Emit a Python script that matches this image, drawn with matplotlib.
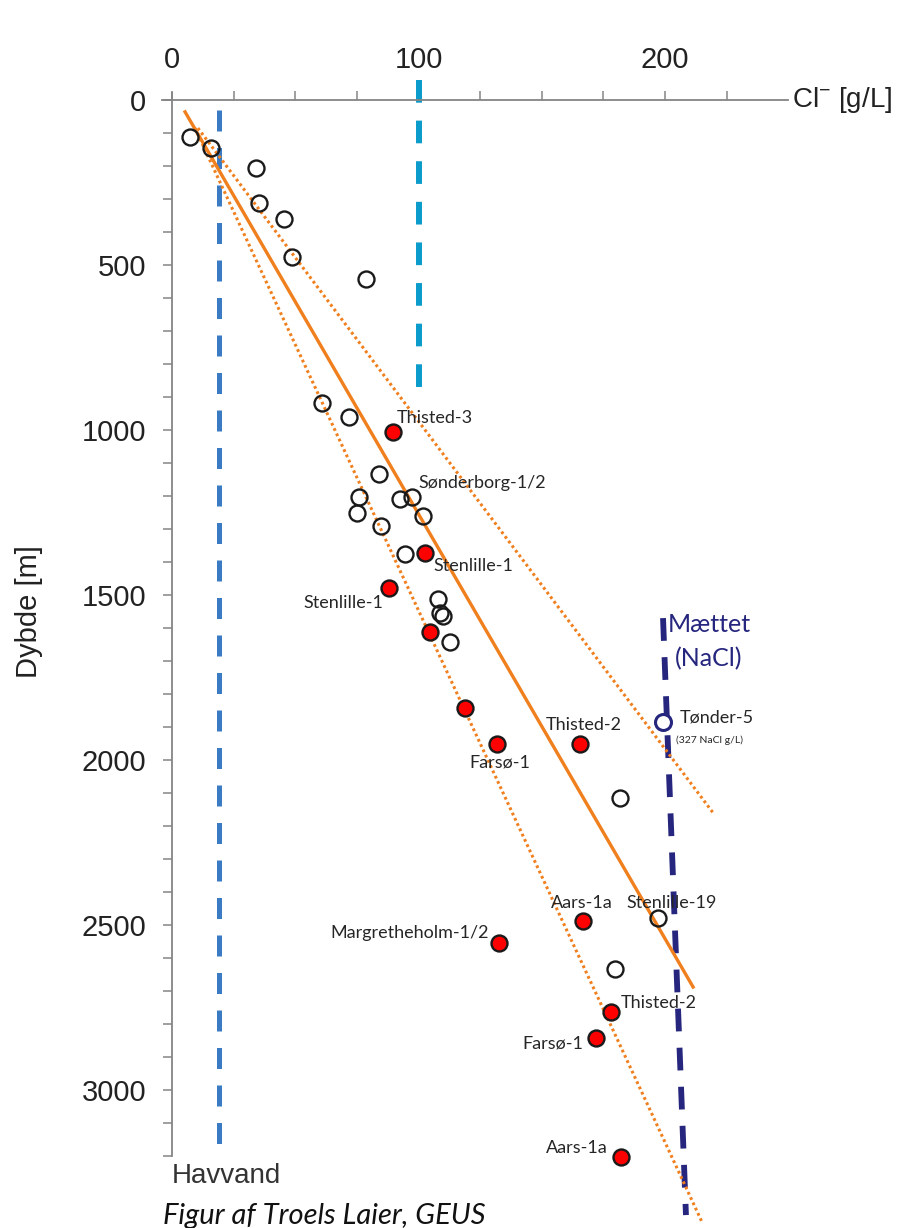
import matplotlib
matplotlib.use("Agg")
import matplotlib.pyplot as plt
from matplotlib.ticker import FixedLocator

plt.rcParams['font.family'] = ['Liberation Sans', 'DejaVu Sans']
plt.rcParams['mathtext.default'] = 'regular'

# data: Cl [g/L] vs depth [m]
open_x = [7.3, 15.8, 34.1, 35.3, 45.4, 48.7, 78.7, 60.9, 71.8, 84.0, 75.9, 92.5,
          97.4, 75.1, 101.8, 84.8, 94.5, 107.9, 108.7, 109.9, 112.8, 181.7, 197.2, 179.7]
open_y = [112, 145, 206, 312, 361, 476, 542, 918, 961, 1133, 1203, 1209,
          1203, 1252, 1261, 1291, 1376, 1512, 1555, 1564, 1642, 2115, 2479, 2633]

red_x = [89.7, 102.6, 88.0, 104.7, 118.9, 131.8, 165.5, 166.7, 132.7, 178.1, 172.0, 182.1]
red_y = [1006, 1373, 1479, 1612, 1842, 1952, 1952, 2488, 2555, 2764, 2842, 3203]
red_names = ['Thisted-3', 'Stenlille-1', 'Stenlille-1', '', '', 'Farsø-1', 'Thisted-2',
             'Aars-1a', 'Margretheholm-1/2', 'Thisted-2', 'Farsø-1', 'Aars-1a']

tonder_x = 199.2
tonder_y = 1885

trend_x = [5.3, 211.4]
trend_y = [36, 2688]
upper_x = [10.5, 219.5]
upper_y = [85, 2160]
lower_x = [9.3, 215.0]
lower_y = [85, 3400]

havvand_x = 19
havvand_y = [30, 3167]
cyan_x = 100
cyan_y = [-60, 895]
maettet_x = [199.2, 208.5]
maettet_y = [1570, 3379]

# label offsets in pixels (dx right, dy up) and alignment
red_offsets = [(4, 14, 'left'), (9, -13, 'left'), (-6, -15, 'right'), None, None,
               (3, -18, 'center'), (4, 19, 'center'), (-1, 18, 'center'),
               (-10, 10, 'right'), (10, 9, 'left'), (-13, -6, 'right'), (-13, 9, 'right')]

W, H = 913, 1228
fig = plt.figure(figsize=(W / 100, H / 100), dpi=100)
ax = fig.add_axes([0, 0, 1, 1])
ax.set_xlim(-172 / 2.465, (W - 172) / 2.465)
ax.set_ylim((H - 100) / 0.33, -100 / 0.33)

grey = '#858585'
orange = '#f07f1e'
navy = '#26267e'

# axes
for s in ['right', 'bottom']:
    ax.spines[s].set_visible(False)
ax.spines['top'].set_position(('data', 0))
ax.spines['left'].set_position(('data', 0))
ax.spines['top'].set_bounds(-4, 250)
ax.spines['left'].set_bounds(-22, 3200)
for s in ['top', 'left']:
    ax.spines[s].set_color(grey)
    ax.spines[s].set_linewidth(1.3)
ax.xaxis.tick_top()
ax.set_xticks([0, 100, 200])
ax.xaxis.set_minor_locator(FixedLocator([25, 50, 75, 125, 150, 175, 225]))
ax.set_yticks(range(0, 3001, 500))
ax.yaxis.set_minor_locator(FixedLocator([v for v in range(100, 3201, 100) if v % 500 != 0]))
ax.tick_params(which='both', direction='out', length=6.5, width=1.1, color=grey,
               labelsize=21, labelcolor='#222222')
ax.tick_params(axis='x', pad=12)
ax.tick_params(axis='y', pad=12)

# reference lines
ax.plot([havvand_x, havvand_x], havvand_y, color='#3b7bc4', lw=3.6, dashes=(4.2, 3.3),
        dash_capstyle='butt', zorder=2)
ax.plot([cyan_x, cyan_x], cyan_y, color='#0b9ccb', lw=4.3, dashes=(3.8, 3.0),
        dash_capstyle='butt', zorder=2, clip_on=False)
ax.plot(maettet_x, maettet_y, color=navy, lw=4.2, dashes=(3.9, 2.8),
        dash_capstyle='butt', zorder=2)

# trend lines
ax.plot(trend_x, trend_y, color=orange, lw=2.4, zorder=3)
ax.plot(upper_x, upper_y, color=orange, lw=2.2, dashes=(0.9, 1.0), zorder=3)
ax.plot(lower_x, lower_y, color=orange, lw=2.2, dashes=(0.9, 1.0), zorder=3)

# points
ax.plot(open_x, open_y, 'o', ms=11.5, mfc='none', mec='#1a1a1a', mew=1.7, zorder=4)
ax.plot(red_x, red_y, 'o', ms=11.5, mfc='#ff0000', mec='#1a1a1a', mew=1.7, zorder=5)
ax.plot([tonder_x], [tonder_y], 'o', ms=11.5, mfc='white', mec=navy, mew=2.2, zorder=5)

lab_font = dict(family=['Lato', 'DejaVu Sans'], fontsize=13, color='#262626')
for x, y, name, off in zip(red_x, red_y, red_names, red_offsets):
    if name:
        ax.annotate(name, (x, y), xytext=off[:2], textcoords='offset pixels',
                    ha=off[2], va='center', zorder=6, **lab_font)

ax.annotate('Sønderborg-1/2', (open_x[12], open_y[12]), xytext=(6, 14),
            textcoords='offset pixels', ha='left', va='center', **lab_font)
ax.annotate('Stenlille-19', (open_x[22], open_y[22]), xytext=(14, 15),
            textcoords='offset pixels', ha='center', va='center', **lab_font)
ax.annotate('Tønder-5', (tonder_x, tonder_y), xytext=(17, 5),
            textcoords='offset pixels', ha='left', va='center', **lab_font)
ax.annotate('(327 NaCl g/L)', (tonder_x, tonder_y), xytext=(13, -18),
            textcoords='offset pixels', ha='left', va='center',
            family=['Lato', 'DejaVu Sans'], fontsize=7.5, color='#262626')

ax.annotate('Mættet', (maettet_x[0], maettet_y[0]), xytext=(5, -6),
            textcoords='offset pixels', ha='left', va='center',
            family=['Lato', 'DejaVu Sans'], fontsize=18, color=navy)
ax.annotate('(NaCl)', (maettet_x[0], maettet_y[0]), xytext=(12, -41),
            textcoords='offset pixels', ha='left', va='center',
            family=['Lato', 'DejaVu Sans'], fontsize=18, color=navy)

# axis titles and notes
fig.text(29 / W, 1 - 612 / H, 'Dybde [m]', rotation=90, ha='center', va='center',
         fontsize=21, color='#222222')
fig.text(792 / W, 1 - 100 / H, 'Cl$^{-}$ [g/L]', ha='left', va='center',
         fontsize=20, color='#222222')
fig.text(172 / W, 1 - 1176 / H, 'Havvand', ha='left', va='center',
         fontsize=20, color='#333333')
fig.text(163 / W, 1 - 1203 / H, 'Figur af Troels Laier, GEUS', ha='left', va='top',
         family=['Lato', 'DejaVu Sans'], style='italic', fontsize=21, color='#111111')

fig.savefig('out.png', dpi=100)
